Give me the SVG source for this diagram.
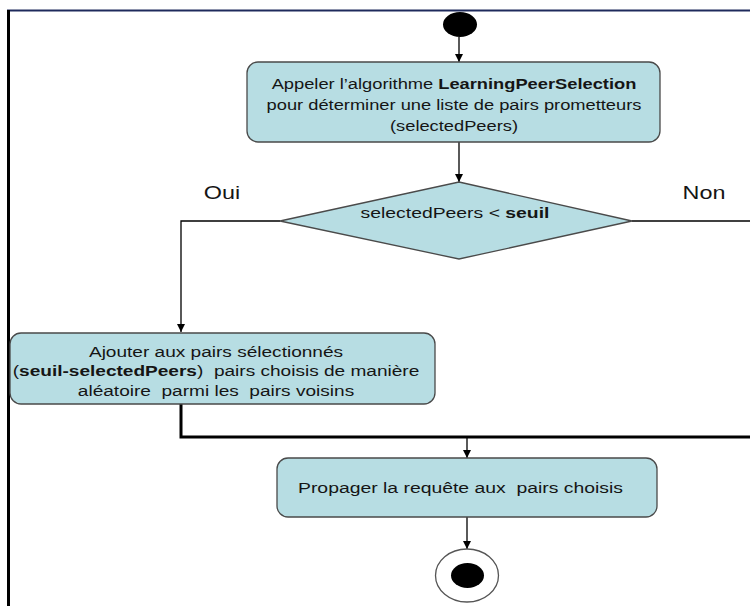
<svg xmlns="http://www.w3.org/2000/svg" width="750" height="606" viewBox="0 0 750 606">
<style>
.box{fill:#b7dde3;stroke:#4a4a4a;stroke-width:1.3}
.t{font-family:"Liberation Sans",Arial,sans-serif;font-size:15.5px;fill:#151515;text-anchor:middle}
.ts{font-family:"Liberation Sans",Arial,sans-serif;font-size:15.5px;fill:#151515}
.b{font-weight:bold}
.lbl{font-family:"Liberation Sans",Arial,sans-serif;font-size:18px;fill:#151515;text-anchor:middle}
.c{fill:none;stroke:#000;stroke-width:1.3}
.thick{fill:none;stroke:#000;stroke-width:3}
</style>
<defs>
<marker id="ah" markerUnits="userSpaceOnUse" markerWidth="9" markerHeight="9" refX="8" refY="4" orient="auto">
<path d="M0,0 L8,4 L0,8 z" fill="#000"/>
</marker>
</defs>
<rect width="750" height="606" fill="#fff"/>
<g id="frame">
<line x1="7" y1="10.5" x2="750" y2="10.5" stroke="#1e2a5c" stroke-width="2"/>
<line x1="8.5" y1="10" x2="8.5" y2="606" stroke="#000" stroke-width="3"/>
</g>
<g id="connectors">
<line class="c" x1="459" y1="37" x2="459" y2="62" marker-end="url(#ah)"/>
<line class="c" x1="459" y1="142" x2="459" y2="182" marker-end="url(#ah)"/>
<polyline class="c" points="280,221 181,221 181,332" marker-end="url(#ah)"/>
<line class="c" x1="632" y1="221" x2="750" y2="221"/>
<polyline class="thick" points="181,404 181,437 750,437"/>
<line class="c" x1="467" y1="437" x2="467" y2="458" marker-end="url(#ah)"/>
<line class="c" x1="467" y1="517" x2="467" y2="549" marker-end="url(#ah)"/>
</g>
<g id="start">
<ellipse cx="460" cy="24.5" rx="17" ry="12.5" fill="#000"/>
</g>
<g id="appeler">
<rect class="box" x="247" y="62" width="413" height="80" rx="11"/>
<g transform="translate(454 0) scale(1.18 1)">
<text class="t" x="0" y="89">Appeler l’algorithme <tspan class="b">LearningPeerSelection</tspan></text>
<text class="t" x="0" y="110">pour déterminer une liste de pairs prometteurs</text>
<text class="t" x="0" y="131">(selectedPeers)</text>
</g>
</g>
<g id="decision">
<polygon class="box" points="459,182 632,221 459,259 280,221"/>
<g transform="translate(455 0) scale(1.25 1)">
<text class="t" x="0" y="218.5">selectedPeers &lt; <tspan class="b">seuil</tspan></text>
</g>
</g>
<g id="labels">
<g transform="translate(222 0) scale(1.3 1)"><text class="lbl" x="0" y="199">Oui</text></g>
<g transform="translate(704 0) scale(1.3 1)"><text class="lbl" x="0" y="199">Non</text></g>
</g>
<g id="ajouter">
<rect class="box" x="10" y="333" width="425" height="71" rx="11"/>
<g transform="translate(216 0) scale(1.23 1)">
<text class="t" x="0" y="357" xml:space="preserve">Ajouter aux pairs sélectionnés</text>
<text class="t" x="0" y="376.5" xml:space="preserve">(<tspan class="b">seuil-selectedPeers</tspan>)  pairs choisis de manière</text>
<text class="t" x="0" y="396" xml:space="preserve">aléatoire  parmi les  pairs voisins</text>
</g>
</g>
<g id="propager">
<rect class="box" x="277" y="458" width="380" height="59" rx="11"/>
<g transform="translate(298 0) scale(1.25 1)">
<text class="ts" x="0" y="493" xml:space="preserve">Propager la requête aux  pairs choisis</text>
</g>
</g>
<g id="end">
<ellipse cx="467" cy="575.5" rx="31.5" ry="26.5" fill="#fff" stroke="#555" stroke-width="1.3"/>
<ellipse cx="467.5" cy="575.5" rx="16.5" ry="12.5" fill="#000"/>
</g>
</svg>
